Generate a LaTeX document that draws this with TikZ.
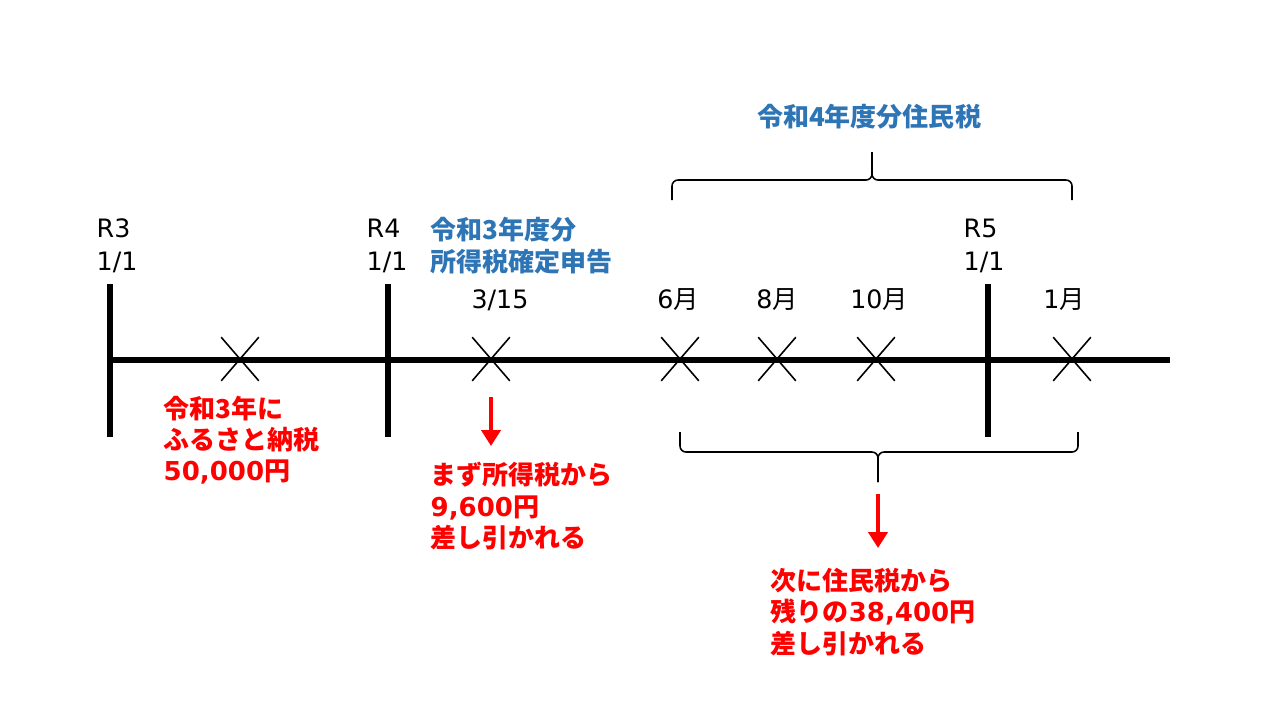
\documentclass[tikz,border=0pt]{standalone}
\usepackage{fontspec}
\setmainfont{Noto Sans CJK JP}
\newfontfamily\latinfont{DejaVu Sans}
\newfontfamily\jpfont{Noto Sans CJK JP}
\newcommand{\gatsu}{{\jpfont 月}}
\newcommand{\suji}[1]{{\latinfont #1}}
\usetikzlibrary{arrows.meta,shapes.misc}
\definecolor{taxblue}{HTML}{2E75B6}
\definecolor{taxred}{HTML}{FF0000}

\begin{document}
\begin{tikzpicture}[x=0.01cm,y=-0.01cm,
  axisline/.style={line width=1.7pt},
  crossmark/.style={cross out,draw,line width=0.45pt,minimum width=0.36cm,minimum height=0.42cm,inner sep=0pt},
  datetext/.style={font=\latinfont\fontsize{7.2pt}{9.3pt}\selectfont,align=left,inner sep=0pt},
  bluetext/.style={font=\bfseries\fontsize{7.4pt}{9.1pt}\selectfont,text=taxblue,align=left,inner sep=0pt},
  redtext/.style={font=\bfseries\fontsize{7.4pt}{8.9pt}\selectfont,text=taxred,align=left,inner sep=0pt,anchor=west},
  bracepath/.style={line width=0.45pt,rounded corners=0.06cm},
  redarrow/.style={taxred,line width=1.4pt,-{Triangle[width=0.19cm,length=0.16cm]}}]
\useasboundingbox (0,0) rectangle (1280,720);

% time line
\coordinate (start) at (110,360);
\coordinate (stop) at (1170,360);
\draw[axisline] (start) -- (stop);

% year ticks
\foreach \n/\x/\t/\l in {r3/110/96/R3, r4/388/366/R4, r5/988/963/R5}
{
  \coordinate (\n top) at (\x,284);
  \coordinate (\n bot) at (\x,437);
  \draw[axisline] (\n top) -- (\n bot);
  \node[datetext,anchor=west] (\n text) at (\t,246) {\l\\1/1};
}

% events
\foreach \n/\x/\t/\l in {
  c1/240/240/{},
  c2/491/500/{3/15},
  c3/680/678/{6\gatsu},
  c4/777/777/{8\gatsu},
  c5/876/879/{10\gatsu},
  c6/1072/1068/{1\gatsu}
}
{
  \node[crossmark] (\n) at (\x,359) {};
  \node[datetext] (\n text) at (\t,300) {\l};
}

% braces
\coordinate (upl) at (672,200);
\coordinate (uptip) at (872,152);
\coordinate (upr) at (1072,200);
\draw[bracepath] (upl) |- (872,180) -- (uptip);
\draw[bracepath] (uptip) -- (872,180) -| (upr);
\coordinate (lowl) at (680,432);
\coordinate (lowtip) at (878,482);
\coordinate (lowr) at (1078,432);
\draw[bracepath] (lowl) |- (878,452) -- (lowtip);
\draw[bracepath] (lowtip) -- (878,452) -| (lowr);

\node[bluetext] (juminzei) at (869,117) {令和4年度分住民税};
\node[bluetext,anchor=west] (shotoku) at (430,246) {令和3年度分\\所得税確定申告};

% red notes
\node[redtext] (furusato) at (163,440) {令和3年に\\ふるさと納税\\\suji{50,000}円};
\node[redtext] (kojo1) at (430,506) {まず所得税から\\\suji{9,600}円\\差し引かれる};
\node[redtext] (kojo2) at (770,612) {次に住民税から\\残りの\suji{38,400}円\\差し引かれる};

\coordinate (arrA) at (491,397);
\coordinate (arrAend) at (491,446);
\draw[redarrow] (arrA) -- (arrAend);
\coordinate (arrB) at (878,494);
\coordinate (arrBend) at (878,548);
\draw[redarrow] (arrB) -- (arrBend);
\end{tikzpicture}
\end{document}
